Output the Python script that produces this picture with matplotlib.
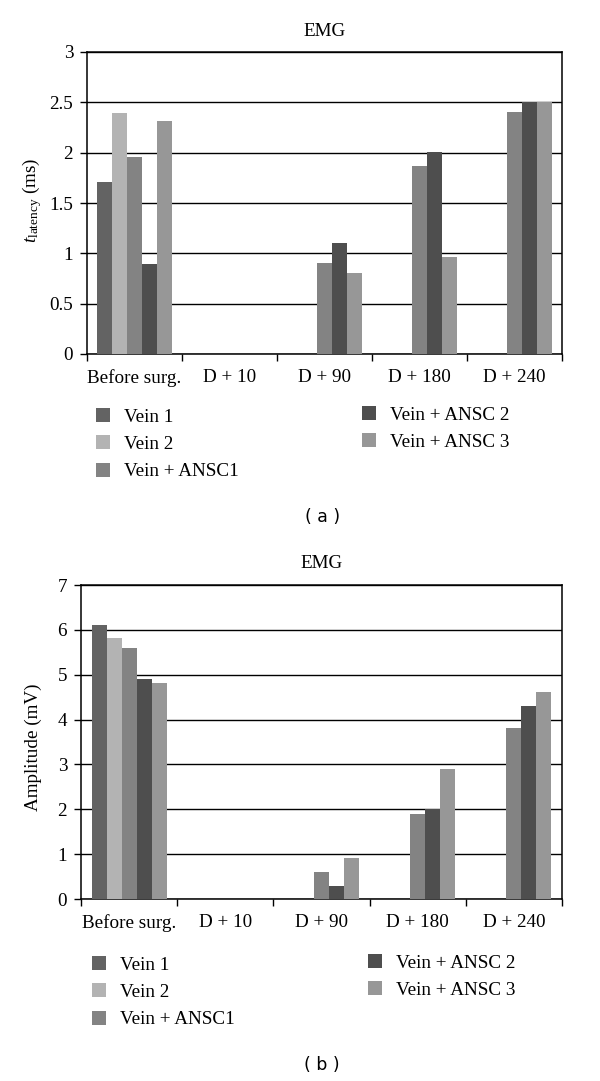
import numpy as np
import matplotlib
matplotlib.use("Agg")
import matplotlib.pyplot as plt

plt.rcParams["font.family"] = ["Liberation Serif", "DejaVu Serif"]
plt.rcParams["mathtext.fontset"] = "custom"
plt.rcParams["mathtext.rm"] = "Liberation Serif"
plt.rcParams["mathtext.it"] = "Liberation Serif:italic"

categories = ["Before surg.", "D + 10", "D + 90", "D + 180", "D + 240"]
series_names = ["Vein 1", "Vein 2", "Vein + ANSC1", "Vein + ANSC 2", "Vein + ANSC 3"]
series_colors = ["#636363", "#b3b3b3", "#838383", "#4e4e4e", "#979797"]

# panel (a): latency (ms)
latency_vein1 = [1.71, 0, 0, 0, 0]
latency_vein2 = [2.39, 0, 0, 0, 0]
latency_ansc1 = [1.96, 0, 0.90, 1.87, 2.40]
latency_ansc2 = [0.89, 0, 1.10, 2.01, 2.50]
latency_ansc3 = [2.31, 0, 0.80, 0.96, 2.50]

# panel (b): amplitude (mV)
amp_vein1 = [6.10, 0, 0, 0, 0]
amp_vein2 = [5.81, 0, 0, 0, 0]
amp_ansc1 = [5.59, 0, 0.61, 1.89, 3.81]
amp_ansc2 = [4.91, 0, 0.30, 2.00, 4.31]
amp_ansc3 = [4.81, 0, 0.91, 2.90, 4.61]

latency = [latency_vein1, latency_vein2, latency_ansc1, latency_ansc2, latency_ansc3]
amplitude = [amp_vein1, amp_vein2, amp_ansc1, amp_ansc2, amp_ansc3]

W, H = 600, 1081
FS = 13.8


def fx(px):
    return px / W


def fy(py):
    return 1 - py / H


def draw_panel(rect, values, ymax, ystep, ylabel, ylabel_pos, title_y, leg_left, leg_right, tag, tag_pos):
    ax = fig.add_axes(rect)
    x = np.arange(len(categories))
    bw = 0.156
    n = len(values)
    bars = []
    for i, vals in enumerate(values):
        off = (i - (n - 1) / 2) * bw
        b = ax.bar(x + off, vals, bw, color=series_colors[i], linewidth=0, zorder=3,
                   label=series_names[i])
        bars.append(b)

    ax.set_xlim(-0.5, len(categories) - 0.5)
    ax.set_ylim(0, ymax)
    yt = np.arange(0, ymax + ystep / 2, ystep)
    ax.set_yticks(yt)
    ax.set_yticklabels([("%g" % v) for v in yt], fontsize=FS)
    ax.yaxis.grid(True, color="black", linewidth=1.0, zorder=0)
    ax.set_axisbelow(True)

    ax.set_xticks(x)
    ax.set_xticklabels(categories, fontsize=FS)
    ax.set_xticks(np.arange(-0.5, len(categories)), minor=True)
    ax.tick_params(axis="x", which="major", length=0, pad=11)
    ax.tick_params(axis="x", which="minor", length=5, width=1, direction="out")
    ax.tick_params(axis="y", length=5, width=1, direction="out", pad=5)
    for s in ax.spines.values():
        s.set_linewidth(1.1)
        s.set_color("black")

    fig.text(fx(ylabel_pos[0]), fy(ylabel_pos[1]), ylabel, rotation=90,
             ha="center", va="center", fontsize=FS)
    fig.text((rect[0] + rect[0] + rect[2]) / 2, fy(title_y), "EMG",
             ha="center", va="center", fontsize=FS)

    kw = dict(frameon=False, fontsize=FS, handlelength=0.75, handleheight=0.75,
              handletextpad=0.7, labelspacing=0.5, borderpad=0, borderaxespad=0,
              loc="upper left")
    fig.legend(bars[:3], series_names[:3], bbox_to_anchor=(fx(leg_left[0]), fy(leg_left[1])), **kw)
    fig.legend(bars[3:], series_names[3:], bbox_to_anchor=(fx(leg_right[0]), fy(leg_right[1])), **kw)

    fig.text(fx(tag_pos[0]), fy(tag_pos[1]), tag, ha="center", va="center",
             fontsize=12.5, family="DejaVu Sans")
    return ax


fig = plt.figure(figsize=(6.0, 10.81), dpi=100)

draw_panel([fx(87), fy(354), fx(562) - fx(87), fy(52) - fy(354)], latency, 3, 0.5,
           r"$t_{\mathrm{latency}}$ (ms)", (32, 200), 32,
           (96, 408), (362, 406), "( a )", (323, 517))

draw_panel([fx(81), fy(899), fx(562) - fx(81), fy(585) - fy(899)], amplitude, 7, 1,
           "Amplitude (mV)", (33, 747), 563,
           (92, 956), (368, 954), "( b )", (322, 1065))

fig.savefig("out.png", dpi=100, facecolor="white")
